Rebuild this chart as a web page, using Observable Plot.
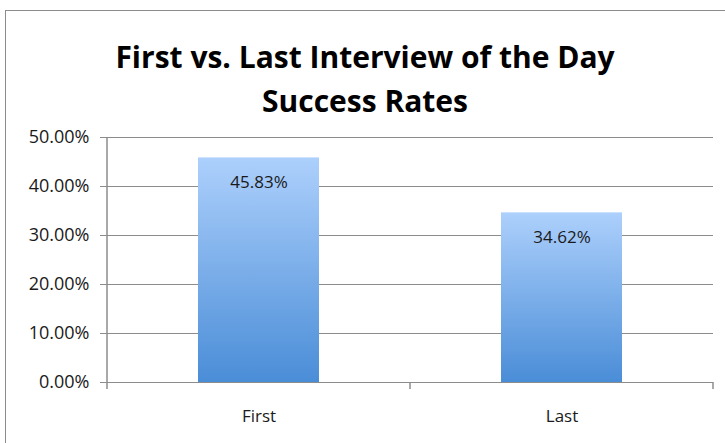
<!DOCTYPE html>
<html><head><meta charset="utf-8">
<script src="https://cdn.jsdelivr.net/npm/d3@7"></script>
<script src="https://cdn.jsdelivr.net/npm/@observablehq/plot@0.6"></script>
<style>
body{margin:0;background:#fff;font-family:"Open Sans",sans-serif;}
#wrap{position:relative;width:725px;height:443px;overflow:hidden;}
#frame{position:absolute;left:5px;top:10px;width:800px;height:500px;border:1.5px solid #8c8c8c;}
#title{position:absolute;left:0;width:730px;top:35px;text-align:center;font-weight:700;font-size:30px;line-height:44px;color:#000;}
#chart{position:absolute;left:0;top:0;}
</style></head><body>
<div id="wrap"><div id="frame"></div><div id="title">First vs. Last Interview of the Day<br>Success Rates</div><div id="chart"></div></div>
<script>
const categories = ["First", "Last"];
const values = [0.4583, 0.3462];
const valueLabels = ["45.83%", "34.62%"];
const yTicks = [0, 0.1, 0.2, 0.3, 0.4, 0.5];

const data = categories.map((c, i) => ({cat: c, value: values[i], label: valueLabels[i]}));

const defs = () => {
  const s = d3.create("svg:defs");
  const g = s.append("linearGradient").attr("id", "barGrad")
    .attr("x1", 0).attr("y1", 0).attr("x2", 0).attr("y2", 1);
  g.append("stop").attr("offset", "0%").attr("stop-color", "#add0fc");
  g.append("stop").attr("offset", "100%").attr("stop-color", "#4a8dd7");
  return s.node();
};

const axisLines = (index, scales, values, dim) => {
  const g = d3.create("svg:g").attr("stroke", "#8c8c8c").attr("stroke-width", 1.5);
  const l = dim.marginLeft, r = dim.width - dim.marginRight;
  const t = dim.marginTop, b = dim.height - dim.marginBottom;
  g.append("line").attr("x1", l).attr("x2", l).attr("y1", t).attr("y2", b + 7);
  for (const x of [(l + r) / 2, r]) {
    g.append("line").attr("x1", x).attr("x2", x).attr("y1", b).attr("y2", b + 7);
  }
  return g.node();
};

const chart = Plot.plot({
  width: 725,
  height: 443,
  marginLeft: 107,
  marginRight: 12,
  marginTop: 137,
  marginBottom: 61,
  style: {background: "transparent", fontFamily: "Open Sans, sans-serif"},
  x: {domain: categories, paddingInner: 0.6, paddingOuter: 0.3},
  y: {domain: [0, 0.5]},
  marks: [
    defs,
    Plot.gridY({ticks: yTicks, stroke: "#8c8c8c", strokeOpacity: 1, strokeWidth: 1.2}),
    Plot.barY(data, {x: "cat", y: "value", fill: "url(#barGrad)"}),
    Plot.text(data, {x: "cat", y: "value", text: "label", dy: 25, fontSize: 17, fill: "#1a1a1a"}),
    axisLines,
    Plot.axisY({ticks: yTicks, tickFormat: d => (d * 100).toFixed(2) + "%", tickSize: 7, tickPadding: 11,
      stroke: "#8c8c8c", fill: "#1a1a1a", fontSize: 18, label: null}),
    Plot.axisX({tickSize: 0, tickPadding: 27, fontSize: 17, fill: "#1a1a1a", label: null})
  ]
});
document.getElementById("chart").append(chart);
</script>
</body></html>
